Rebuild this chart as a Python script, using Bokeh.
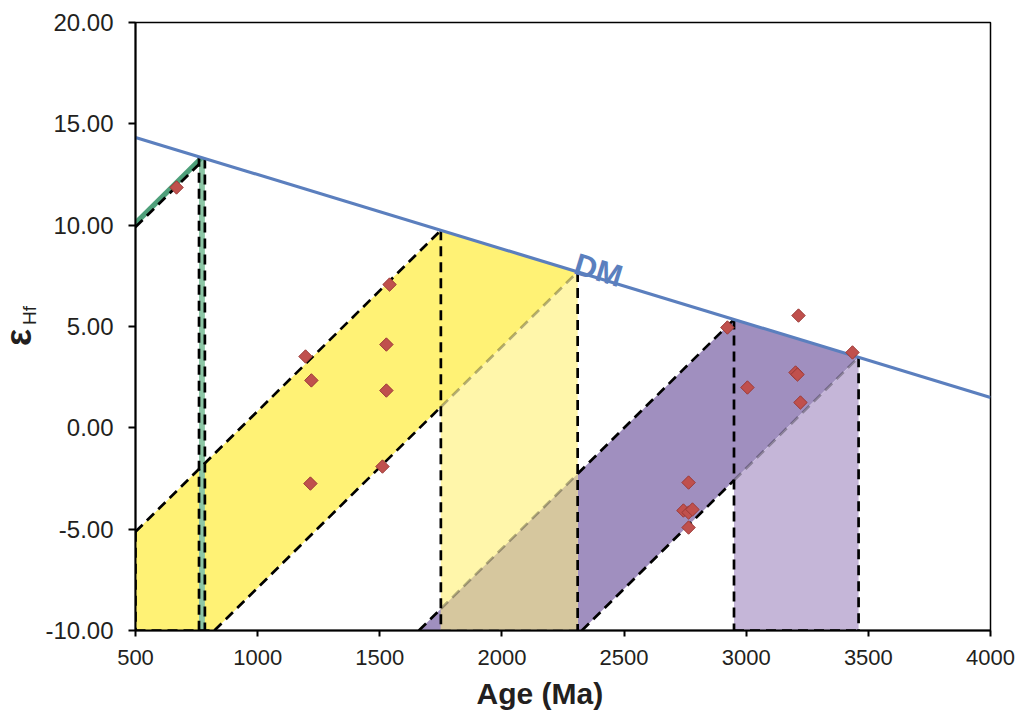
import numpy as np
from bokeh.plotting import figure
from bokeh.layouts import row
from bokeh.models import Range1d, FixedTicker, NumeralTickFormatter, Label, Title
from bokeh.embed import file_html
from bokeh.resources import INLINE

# ---------------- data ----------------
dm_age = [500, 4000]            # depleted mantle reference line (Ma)
dm_eps = [14.33, 1.50]          # epsilon Hf of DM at those ages
crust_slope = 0.0119            # crustal evolution slope (eps units per Ma)
green_tdm = [760, 784]          # model-age range, Neoproterozoic group
yellow_tdm = [1750, 2310]       # model-age range, Mesoproterozoic group
purple_tdm = [2950, 3460]       # model-age range, Archean group

sample_age = [668, 1196, 1220, 1216, 1540, 1527, 1527, 1511,
              2923, 3005, 3214, 3202, 3210, 3222, 3435,
              2764, 2743, 2764, 2780, 2764]
sample_eps = [11.86, 3.52, 2.34, -2.75, 7.07, 4.11, 1.84, -1.91,
              4.95, 1.99, 5.54, 2.73, 2.63, 1.25, 3.72,
              -2.70, -4.08, -4.18, -4.03, -4.92]

x_ticks = [500, 1000, 1500, 2000, 2500, 3000, 3500, 4000]
y_ticks = [-10, -5, 0, 5, 10, 15, 20]
X0, X1 = 500, 4000
Y0, Y1 = -10, 20

H = 724
LW = 39  # width of the strip holding the y-axis title
FT, FB = 22, 630  # frame top / bottom in pixels

# ---------------- helpers ----------------
def dm(t):
    return float(np.interp(t, dm_age, dm_eps))

def crust(tdm, t):
    return dm(tdm) - crust_slope * (tdm - t)

def t_at(tdm, e):
    return tdm - (dm(tdm) - e) / crust_slope

p = figure(width=1015 - LW, height=H, output_backend="svg", toolbar_location=None,
           x_range=Range1d(X0, X1), y_range=Range1d(Y0, Y1),
           min_border_left=135 - LW, min_border_right=25, min_border_top=FT,
           min_border_bottom=H - FB, background_fill_color="white",
           border_fill_color="white")
p.grid.visible = False
p.outline_line_color = "black"
p.outline_line_width = 1.5

g0, g1 = green_tdm
t0, t1 = yellow_tdm
q0, q1 = purple_tdm

YEL = "#fff275"
YEL_L = "#fff6aa"
TAN = "#d6c79e"
PUR = "#a08fbf"
LAV = "#c5b6d8"
GRN = "#4e9f7a"
GRN_L = "#8cc6a5"

# purple band
p.patch([t_at(q0, Y0), q0, q1, t_at(q1, Y0)], [Y0, dm(q0), dm(q1), Y0],
        fill_color=PUR, line_color=None)
# lavender model-age strip
p.patch([q0, q1, q1, q0], [crust(q1, q0), dm(q1), Y0, Y0],
        fill_color=LAV, line_color=None)
# light yellow model-age strip
p.patch([t0, t1, t1, t0], [crust(t1, t0), dm(t1), Y0, Y0],
        fill_color=YEL_L, line_color=None)
# tan overlap (purple band under yellow strip)
p.patch([t0, t0, t1, t1], [Y0, crust(q0, t0), crust(q0, t1), Y0],
        fill_color=TAN, line_color=None)
# yellow band
p.patch([X0, X0, t0, t1, t_at(t1, Y0)],
        [Y0, crust(t0, X0), dm(t0), dm(t1), Y0],
        fill_color=YEL, line_color=None)
# green band and strip
p.patch([X0, g0, g1, X0], [crust(g0, X0), dm(g0), dm(g1), crust(g1, X0)],
        fill_color=GRN, line_color=None)
p.patch([g0, g1, g1, g0], [crust(g1, g0), dm(g1), Y0, Y0],
        fill_color=GRN_L, line_color=None)

# dashed construction lines
black = [
    ((X0, crust(g1, X0)), (g0, crust(g1, g0))),
    ((g0, dm(g0)), (g0, Y0)),
    ((g1, dm(g1)), (g1, Y0)),
    ((X0, crust(t0, X0)), (t0, dm(t0))),
    ((X0, crust(t0, X0)), (X0, Y0)),
    ((X0, Y0), (t_at(t1, Y0), Y0)),
    ((t_at(t1, Y0), Y0), (t0, crust(t1, t0))),
    ((t0, dm(t0)), (t0, Y0)),
    ((t1, dm(t1)), (t1, Y0)),
    ((t_at(q0, Y0), Y0), (t0, crust(q0, t0))),
    ((t1, crust(q0, t1)), (q0, dm(q0))),
    ((t_at(q1, Y0), Y0), (q0, crust(q1, q0))),
    ((q0, dm(q0)), (q0, Y0)),
    ((q1, dm(q1)), (q1, Y0)),
    ((q0, Y0), (q1, Y0)),
]
faint = [
    ((t0, crust(t1, t0)), (t1, dm(t1))),
    ((t0, crust(q0, t0)), (t1, crust(q0, t1))),
    ((q0, crust(q1, q0)), (q1, dm(q1))),
    ((t0, Y0), (t1, Y0)),
]
for segs, alpha in ((faint, 0.3), (black, 1.0)):
    p.segment(x0=[s[0][0] for s in segs], y0=[s[0][1] for s in segs],
              x1=[s[1][0] for s in segs], y1=[s[1][1] for s in segs],
              line_color="black", line_alpha=alpha, line_width=2.7,
              line_dash="10 6")

# DM line
p.line(dm_age, dm_eps, line_color="#5b7fbe", line_width=3.2)

# samples
p.scatter(sample_age, sample_eps, marker="square", size=9.5, angle=np.pi / 4,
          fill_color="#c0504d", line_color="#9b3a37", line_width=1)

# DM label
p.add_layout(Label(x=2395, y=dm(2395), text="DM", angle=-0.295,
                   text_align="center", text_baseline="alphabetic",
                   y_offset=8, text_color="#5b7fbe",
                   text_font="Liberation Sans",
                   text_font_style="bold", text_font_size="31px"))

# axes
for ax in (p.xaxis[0], p.yaxis[0]):
    ax.axis_line_width = 2
    ax.axis_line_color = "black"
    ax.major_tick_line_color = "black"
    ax.major_tick_line_width = 2
    ax.minor_tick_line_color = None
    ax.major_tick_in = 0
    ax.major_label_text_color = "#231f20"
    ax.major_label_text_font = "Liberation Sans"
    ax.axis_label = None

p.xaxis.ticker = FixedTicker(ticks=x_ticks)
p.yaxis.ticker = FixedTicker(ticks=y_ticks)
p.yaxis.formatter = NumeralTickFormatter(format="0.00")
p.xaxis.major_tick_out = 6
p.yaxis.major_tick_out = 7
p.xaxis.major_label_text_font_size = "22px"
p.yaxis.major_label_text_font_size = "24px"
p.xaxis.major_label_standoff = 13
p.yaxis.major_label_standoff = 15

# x-axis title
p.add_layout(Title(text="Age (Ma)", align="left", offset=341, standoff=14,
                   text_color="#231f20", text_font="Liberation Sans",
                   text_font_style="bold", text_font_size="30px"), "below")

# y-axis title (epsilon with subscript Hf) in a narrow strip on the left;
# the row aligns this strip's frame with the main frame (FT..FB), so its
# y range is expressed in pixels from the top of the page.
q = figure(width=LW, height=H, output_backend="svg", toolbar_location=None,
           x_axis_type=None, y_axis_type=None, title=None,
           x_range=Range1d(0, LW), y_range=Range1d(FB, FT),
           min_border_left=0, min_border_right=0, min_border_top=0,
           min_border_bottom=0, background_fill_color="white",
           border_fill_color="white")
q.grid.visible = False
q.outline_line_color = None
q.add_layout(Label(x=17.5, y=337, text="ε", angle=np.pi / 2,
                   text_align="center", text_baseline="middle",
                   text_color="#231f20", text_font="Liberation Sans",
                   text_font_style="bold", text_font_size="36px"))
q.add_layout(Label(x=29, y=315, text="Hf", angle=np.pi / 2,
                   text_align="center", text_baseline="middle",
                   text_color="#231f20", text_font="Liberation Sans",
                   text_font_size="19px"))

layout = row(q, p, spacing=0)
open("out.html", "w").write(file_html(layout, INLINE))
